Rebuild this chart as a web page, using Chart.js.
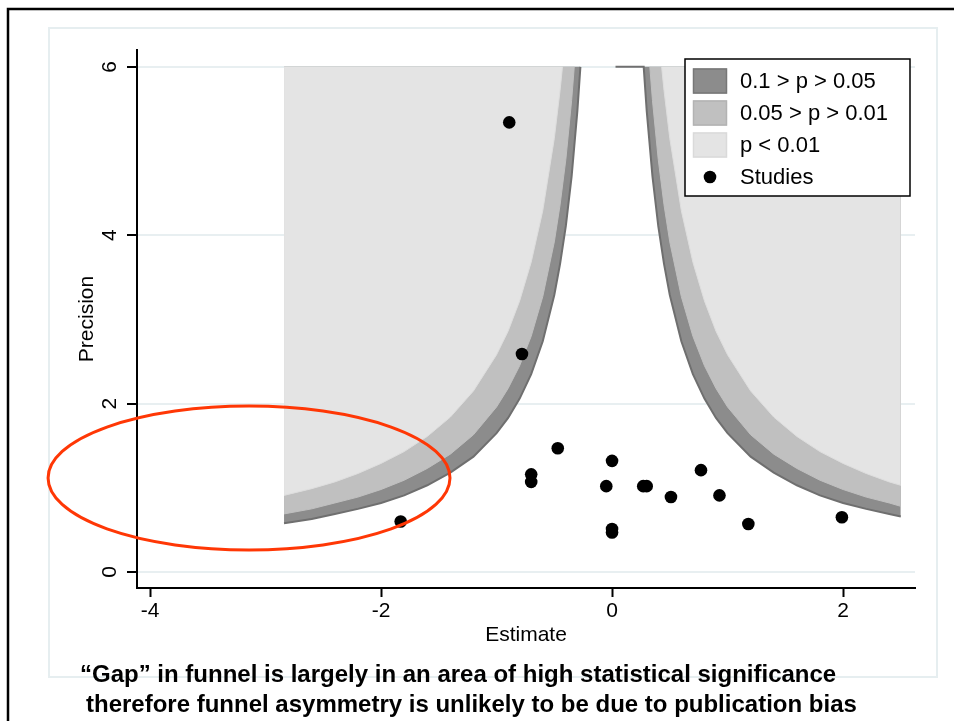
<!DOCTYPE html>
<html>
<head>
<meta charset="utf-8">
<script src="https://cdn.jsdelivr.net/npm/chart.js@4.4.0/dist/chart.umd.min.js"></script>
<style>
  html, body { margin: 0; padding: 0; background: #fff; }
  #wrap { width: 954px; height: 721px; position: relative; }
</style>
</head>
<body>
<div id="wrap"><canvas id="funnelChart"></canvas></div>
<script>
// legend labels for the contour bands
var bandLabels = ['0.1 > p > 0.05', '0.05 > p > 0.01', 'p < 0.01'];
var studyLabel = 'Studies';

// contour boundaries (estimate, precision)
var darkLeftX = [-2.84, -2.6, -2.4, -2.2, -2.0, -1.8, -1.6, -1.4, -1.2, -1.0, -0.9, -0.8, -0.7, -0.6, -0.5, -0.45, -0.4, -0.35, -0.3, -0.274];
var darkLeftY = [0.58, 0.63, 0.69, 0.75, 0.82, 0.91, 1.03, 1.18, 1.37, 1.65, 1.83, 2.06, 2.35, 2.74, 3.29, 3.66, 4.11, 4.70, 5.48, 6.0];
var darkRightX = [0.03, 0.274, 0.3, 0.35, 0.4, 0.45, 0.5, 0.6, 0.7, 0.8, 0.9, 1.0, 1.2, 1.4, 1.6, 1.8, 2.0, 2.2, 2.4, 2.5];
var darkRightY = [6.0, 6.0, 5.48, 4.70, 4.11, 3.66, 3.29, 2.74, 2.35, 2.06, 1.83, 1.65, 1.37, 1.18, 1.03, 0.91, 0.82, 0.75, 0.69, 0.66];

var midLeftX = [-2.84, -2.6, -2.4, -2.2, -2.0, -1.8, -1.6, -1.4, -1.2, -1.0, -0.9, -0.8, -0.7, -0.6, -0.5, -0.45, -0.4, -0.35, -0.327];
var midLeftY = [0.69, 0.75, 0.82, 0.89, 0.98, 1.09, 1.23, 1.40, 1.63, 1.96, 2.18, 2.45, 2.80, 3.27, 3.92, 4.36, 4.90, 5.60, 6.0];
var midRightX = [0.327, 0.35, 0.4, 0.45, 0.5, 0.6, 0.7, 0.8, 0.9, 1.0, 1.2, 1.4, 1.6, 1.8, 2.0, 2.2, 2.4, 2.5];
var midRightY = [6.0, 5.60, 4.90, 4.36, 3.92, 3.27, 2.80, 2.45, 2.18, 1.96, 1.63, 1.40, 1.23, 1.09, 0.98, 0.89, 0.82, 0.78];

var lightLeftX = [-2.84, -2.6, -2.4, -2.2, -2.0, -1.8, -1.6, -1.4, -1.2, -1.0, -0.9, -0.8, -0.7, -0.6, -0.5, -0.45, -0.429];
var lightLeftY = [0.91, 0.99, 1.07, 1.17, 1.29, 1.43, 1.61, 1.84, 2.15, 2.58, 2.86, 3.22, 3.68, 4.29, 5.15, 5.72, 6.0];
var lightRightX = [0.429, 0.45, 0.5, 0.6, 0.7, 0.8, 0.9, 1.0, 1.2, 1.4, 1.6, 1.8, 2.0, 2.2, 2.4, 2.5];
var lightRightY = [6.0, 5.72, 5.15, 4.29, 3.68, 3.22, 2.86, 2.58, 2.15, 1.84, 1.61, 1.43, 1.29, 1.17, 1.07, 1.03];

// the studies
var studyX = [-0.89, -0.78, -1.83, -0.47, -0.70, -0.70, 0.00, -0.05, 0.27, 0.30, 0.51, 0.77, 0.93, 1.18, 1.99, 0.00, 0.00];
var studyY = [5.34, 2.59, 0.60, 1.47, 1.16, 1.07, 1.32, 1.02, 1.02, 1.02, 0.89, 1.21, 0.91, 0.57, 0.65, 0.51, 0.47];

var xTicks = [-4, -2, 0, 2];
var yTicks = [0, 2, 4, 6];

var captionLines = ['\u201cGap\u201d in funnel is largely in an area of high statistical significance',
                    'therefore funnel asymmetry is unlikely to be due to publication bias'];

// red ring round the gap: centre and radii in data units
var gapCentre = {x: -3.143, y: 1.117};
var gapRadius = {x: 1.74, y: 0.855};

var FONT = '"Liberation Sans", Arial, sans-serif';
var DARK = '#8c8c8c', MID = '#c0c0c0', LIGHT = '#e4e4e4';

function pts(xs, ys) {
    return xs.map(function (x, i) { return {x: x, y: ys[i]}; });
}

function band(label, xs, ys, fillColor, lineColor, lineWidth, order) {
    return {
        label: label,
        data: pts(xs, ys),
        fill: {value: 6},
        backgroundColor: fillColor,
        borderColor: lineColor,
        borderWidth: lineWidth,
        pointRadius: 0,
        tension: 0,
        order: order
    };
}

var framePlugin = {
    id: 'frame',
    beforeDraw: function (chart) {
        var c = chart.ctx;
        c.save();
        c.fillStyle = '#fff';
        c.fillRect(0, 0, chart.width, chart.height);
        c.strokeStyle = '#e6eef0';
        c.lineWidth = 2;
        c.strokeRect(49, 28, 888, 649);
        c.strokeStyle = '#000';
        c.lineWidth = 2.5;
        c.strokeRect(8, 9, 1000, 1000);
        c.restore();
    }
};

var gapPlugin = {
    id: 'gapRing',
    afterDatasetsDraw: function (chart) {
        var xs = chart.scales.x, ys = chart.scales.y, c = chart.ctx;
        var cx = xs.getPixelForValue(gapCentre.x), cy = ys.getPixelForValue(gapCentre.y);
        var rx = xs.getPixelForValue(gapCentre.x + gapRadius.x) - cx;
        var ry = cy - ys.getPixelForValue(gapCentre.y + gapRadius.y);
        c.save();
        c.strokeStyle = 'rgb(255,55,5)';
        c.lineWidth = 3;
        c.beginPath();
        c.ellipse(cx, cy, rx, ry, 0, 0, Math.PI * 2);
        c.stroke();
        c.restore();
    }
};

var boxLegendPlugin = {
    id: 'boxLegend',
    afterDraw: function (chart) {
        var c = chart.ctx;
        var items = chart.data.datasets.filter(function (d) { return d.label; });
        var left = 685, top = 59, w = 225, rowH = 32;
        c.save();
        c.fillStyle = '#fff';
        c.fillRect(left, top, w, rowH * items.length + 9);
        c.strokeStyle = '#000';
        c.lineWidth = 1.5;
        c.strokeRect(left, top, w, rowH * items.length + 9);
        c.font = '22px ' + FONT;
        c.textBaseline = 'middle';
        items.forEach(function (d, i) {
            var cy = top + 22 + i * rowH;
            if (d.showLine === false) {
                c.fillStyle = d.pointBackgroundColor;
                c.beginPath();
                c.arc(left + 25, cy, 6.3, 0, Math.PI * 2);
                c.fill();
            } else {
                c.fillStyle = d.backgroundColor;
                c.fillRect(left + 8, cy - 12.5, 34, 25);
                c.strokeStyle = d.swatchEdge;
                c.lineWidth = 1.5;
                c.strokeRect(left + 8.5, cy - 12, 33, 24);
            }
            c.fillStyle = '#000';
            c.fillText(d.label, left + 55, cy + 1);
        });

        // caption under the chart
        c.font = 'bold 24px ' + FONT;
        c.textBaseline = 'middle';
        c.fillText(captionLines[0], 80, 675);
        c.fillText(captionLines[1], 86, 705);
        c.restore();
    }
};

var darkL = band(bandLabels[0], darkLeftX, darkLeftY, DARK, '#6f6f6f', 2, 3);
darkL.swatchEdge = '#777';
var darkR = band('', darkRightX, darkRightY, DARK, '#6f6f6f', 2, 3);
var midL = band(bandLabels[1], midLeftX, midLeftY, MID, MID, 1, 2);
midL.swatchEdge = '#b3b3b3';
var midR = band('', midRightX, midRightY, MID, MID, 1, 2);
var lightL = band(bandLabels[2], lightLeftX, lightLeftY, LIGHT, '#dedede', 1, 1);
lightL.swatchEdge = '#dadada';
var lightR = band('', lightRightX, lightRightY, LIGHT, '#dedede', 1, 1);

var studies = {
    label: studyLabel,
    data: pts(studyX, studyY),
    showLine: false,
    pointRadius: 6.3,
    pointBackgroundColor: '#000',
    pointBorderWidth: 0,
    order: 0
};

var ctx = document.getElementById('funnelChart').getContext('2d');
var chart = new Chart(ctx, {
    type: 'line',
    data: {
        datasets: [darkL, midL, lightL, studies, darkR, midR, lightR]
    },
    options: {
        responsive: true,
        maintainAspectRatio: false,
        animation: false,
        events: [],
        layout: { padding: { left: 0, top: 50, right: 39, bottom: 0 } },
        plugins: {
            legend: { display: false },
            tooltip: { enabled: false }
        },
        scales: {
            x: {
                type: 'linear',
                position: 'bottom',
                min: -4.113,
                max: 2.623,
                afterBuildTicks: function (s) { s.ticks = xTicks.map(function (v) { return {value: v}; }); },
                afterFit: function (s) { s.height = 133; },
                ticks: { font: { family: FONT, size: 21 }, color: '#000', padding: 2, maxRotation: 0 },
                grid: { drawOnChartArea: false, drawTicks: true, tickLength: 9, tickColor: '#000', tickWidth: 2 },
                border: { display: true, color: '#000', width: 2 },
                title: { display: true, text: 'Estimate', color: '#000', font: { family: FONT, size: 21 }, padding: { top: 0, bottom: 73 } }
            },
            y: {
                type: 'linear',
                min: -0.19,
                max: 6.2,
                afterBuildTicks: function (s) { s.ticks = yTicks.map(function (v) { return {value: v}; }); },
                afterFit: function (s) { s.width = 137; },
                ticks: { font: { family: FONT, size: 21 }, color: '#000', padding: 11, minRotation: 90, maxRotation: 90, crossAlign: 'center' },
                grid: { color: '#e8eff1', lineWidth: 2, tickColor: '#000', tickLength: 10, tickWidth: 2 },
                border: { display: true, color: '#000', width: 2 },
                title: { display: true, text: 'Precision', color: '#000', font: { family: FONT, size: 21 }, padding: { top: 75, bottom: 0 } }
            }
        }
    },
    plugins: [framePlugin, gapPlugin, boxLegendPlugin]
});
</script>
</body>
</html>
